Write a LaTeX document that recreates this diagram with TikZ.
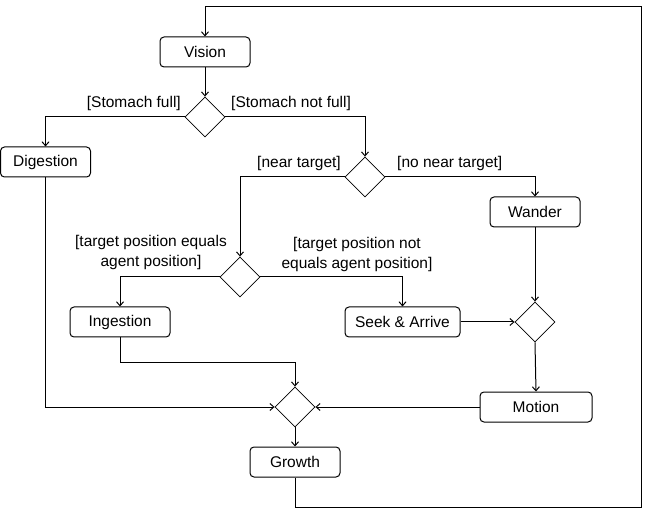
\documentclass[tikz,border=0pt]{standalone}
\usepackage{fontspec}
\setmainfont{Liberation Sans}
\usetikzlibrary{shapes.geometric,arrows.meta}
\begin{document}
\begin{tikzpicture}[x=1pt,y=-1pt,
  every node/.style={font=\fontsize{15.5}{20}\selectfont},
  act/.style={draw,line width=1pt,rounded corners=4pt,minimum height=30pt,inner sep=0pt},
  dec/.style={draw,diamond,line width=0.8pt,minimum width=40pt,minimum height=40pt,inner sep=0pt},
  lbl/.style={inner sep=0pt,align=center},
  arr/.style={line width=1pt,-{Straight Barb[length=4pt,width=7pt]}}]
\useasboundingbox (0,0) rectangle (649,516);
% activities
\node[act,minimum width=90pt] (vis) at (205,52) {Vision};
\node[act,minimum width=90pt] (dig) at (45.5,162) {Digestion};
\node[act,minimum width=90pt] (wan) at (535,212) {Wander};
\node[act,minimum width=100pt] (ing) at (120,322) {Ingestion};
\node[act,minimum width=115pt] (sek) at (402.5,322) {Seek \& Arrive};
\node[act,minimum width=112pt] (mot) at (536,407) {Motion};
\node[act,minimum width=90pt] (gro) at (295,462) {Growth};
% decisions
\node[dec] (d1) at (205,117) {};
\node[dec] (d2) at (365,177) {};
\node[dec] (d3) at (240,277) {};
\node[dec] (d4) at (535,322) {};
\node[dec] (d5) at (295,407) {};
% labels
\node[lbl,anchor=east] (l1) at (181,103) {[Stomach full]};
\node[lbl,anchor=west] (l2) at (231,103) {[Stomach not full]};
\node[lbl,anchor=east] (l3) at (341,163) {[near target]};
\node[lbl,anchor=west] (l4) at (397,163) {[no near target]};
\node[lbl] (l5) at (151,252) {[target position equals\\agent position]};
\node[lbl] (l6) at (357,254) {[target position not\\equals agent position]};
% corners
\coordinate (c1) at (641,507);
\coordinate (c2) at (641,7);
% connectors
\draw[arr] (vis.south) -- (d1.north);
\draw[arr] (d1.west) -| (dig.north);
\draw[arr] (d1.east) -| (d2.north);
\draw[arr] (d2.west) -| (d3.north);
\draw[arr] (d2.east) -| (wan.north);
\draw[arr] (d3.west) -| (ing.north);
\draw[arr] (d3.east) -| (sek.north);
\draw[arr] (sek.east) -- (d4.west);
\draw[arr] (wan.south) -- (d4.north);
\draw[arr] (d4.south) -- (mot.north);
\draw[arr] (mot.west) -- (d5.east);
\draw[arr] (dig.south) |- (d5.west);
\draw[arr] (ing.south) -- ++(0,25) -| (d5.north);
\draw[arr] (d5.south) -- (gro.north);
\draw[arr] (gro.south) |- (c1) -- (c2) -| (vis.north);
\end{tikzpicture}
\end{document}
